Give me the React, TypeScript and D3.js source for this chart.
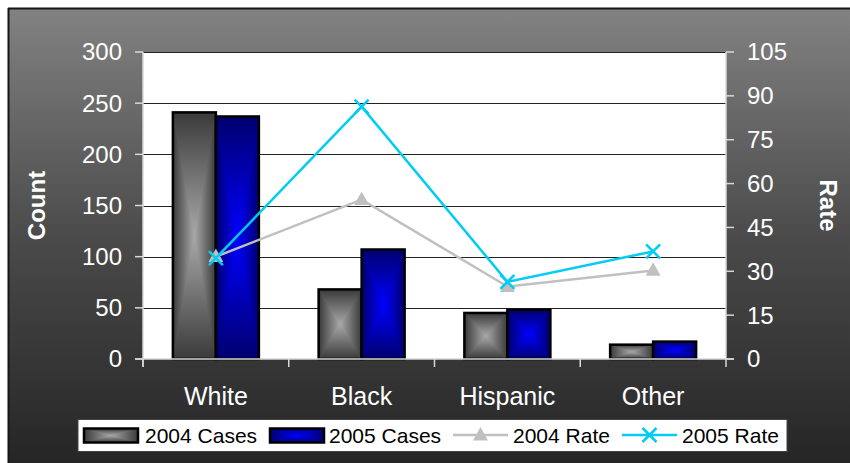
import React from "react";
import * as d3 from "d3";

const categories = ["White", "Black", "Hispanic", "Other"];
const cases2004 = [241, 68, 45, 14];
const cases2005 = [237, 107, 48, 17];
const rate2004 = [35, 54.5, 24.8, 30.3];
const rate2005 = [34.5, 86.3, 26.4, 36.8];
const countTicks = [0, 50, 100, 150, 200, 250, 300];
const rateTicks = [0, 15, 30, 45, 60, 75, 90, 105];
const legendLabels = ["2004 Cases", "2005 Cases", "2004 Rate", "2005 Rate"];

const W = 850;
const H = 463;
const plot = { left: 143, right: 726, top: 52, bottom: 359 };
const FONT = "'Liberation Sans', Arial, sans-serif";
const RATE2004 = "#c0c0c0";
const RATE2005 = "#00ccf5";

function GradBar({ x, y, w, h, id }: { x: number; y: number; w: number; h: number; id: string }) {
  const cx = x + w / 2;
  const cy = y + h / 2;
  const x2 = x + w;
  const y2 = y + h;
  return (
    <g>
      <rect x={x} y={y} width={w} height={h} fill={`url(#${id}-h)`} />
      <path d={`M${x},${y}L${x2},${y}L${cx},${cy}Z`} fill={`url(#${id}-t)`} />
      <path d={`M${x},${y2}L${x2},${y2}L${cx},${cy}Z`} fill={`url(#${id}-b)`} />
      <rect x={x} y={y} width={w} height={h} fill="none" stroke="#000" strokeWidth={2.5} />
    </g>
  );
}

function GradDefs({ id, edge, center }: { id: string; edge: string; center: string }) {
  const mk = (suffix: string, x1: number, y1: number, x2: number, y2: number) => (
    <linearGradient id={`${id}-${suffix}`} x1={x1} y1={y1} x2={x2} y2={y2}>
      <stop offset="0" stopColor={edge} />
      <stop offset="1" stopColor={center} />
    </linearGradient>
  );
  return (
    <>
      {mk("t", 0, 0, 0, 1)}
      {mk("b", 0, 1, 0, 0)}
      <linearGradient id={`${id}-h`} x1={0} y1={0} x2={1} y2={0}>
        <stop offset="0" stopColor={edge} />
        <stop offset="0.5" stopColor={center} />
        <stop offset="1" stopColor={edge} />
      </linearGradient>
    </>
  );
}

function Triangle({ x, y, s, fill }: { x: number; y: number; s: number; fill: string }) {
  const h = s * 0.9;
  return <path d={`M${x},${y - h * 0.6}L${x + s / 2},${y + h * 0.4}L${x - s / 2},${y + h * 0.4}Z`} fill={fill} />;
}

function XMark({ x, y, s, stroke }: { x: number; y: number; s: number; stroke: string }) {
  const r = s / 2;
  return (
    <path d={`M${x - r},${y - r}L${x + r},${y + r}M${x - r},${y + r}L${x + r},${y - r}`} stroke={stroke} strokeWidth={2.5} fill="none" />
  );
}

export default function App() {
  const x0 = d3.scaleBand<string>().domain(categories).range([plot.left, plot.right]).paddingInner(0).paddingOuter(0);
  const yCount = d3.scaleLinear().domain([0, 300]).range([plot.bottom, plot.top]);
  const yRate = d3.scaleLinear().domain([0, 105]).range([plot.bottom, plot.top]);
  const barW = 43;
  const center = (c: string) => (x0(c) as number) + x0.bandwidth() / 2;

  const line = d3
    .line<number>()
    .x((_, i) => center(categories[i]))
    .y((d) => yRate(d));

  const boundaries = categories.map((c) => x0(c) as number).concat([plot.right]);

  const legendSwatchX = [84, 270, 453, 622];
  const legendTextX = [145, 329, 513, 682];
  const legY = 435;

  return (
    <svg
      width={W}
      height={H}
      style={{ position: "absolute", left: 0, top: 0, display: "block" }}
      fontFamily={FONT}
    >
      <defs>
        <linearGradient id="bg" x1="0" y1="0" x2="0" y2="1">
          <stop offset="0" stopColor="#828282" />
          <stop offset="0.5" stopColor="#4a4a4a" />
          <stop offset="1" stopColor="#242424" />
        </linearGradient>
        <GradDefs id="g4" edge="#3a3a3a" center="#a8a8a8" />
        <GradDefs id="g5" edge="#00006e" center="#0000ff" />
      </defs>
      <rect x={0} y={0} width={W} height={H} fill="#fff" />
      <rect x={8} y={8} width={W} height={H} fill="url(#bg)" />
      <line x1={8} y1={8.5} x2={W} y2={8.5} stroke="#161616" strokeWidth={2} />
      <line x1={8.5} y1={8} x2={8.5} y2={H} stroke="#161616" strokeWidth={2} />

      {/* plot area */}
      <rect x={plot.left} y={plot.top} width={plot.right - plot.left} height={plot.bottom - plot.top} fill="#fff" />
      {countTicks.slice(1).map((t) => (
        <line key={t} x1={plot.left} x2={plot.right} y1={Math.round(yCount(t)) + 0.5} y2={Math.round(yCount(t)) + 0.5} stroke="#222" strokeWidth={1} />
      ))}

      {/* bars */}
      {categories.map((c, i) => {
        const cx = center(c);
        const y4 = yCount(cases2004[i]);
        const y5 = yCount(cases2005[i]);
        return (
          <g key={c}>
            <GradBar x={cx - barW} y={y4} w={barW} h={yCount(0) - y4} id="g4" />
            <GradBar x={cx} y={y5} w={barW} h={yCount(0) - y5} id="g5" />
          </g>
        );
      })}

      {/* rate lines */}
      <path d={line(rate2004) as string} fill="none" stroke={RATE2004} strokeWidth={2.5} />
      <path d={line(rate2005) as string} fill="none" stroke={RATE2005} strokeWidth={2.5} />
      {rate2004.map((v, i) => (
        <Triangle key={i} x={center(categories[i])} y={yRate(v)} s={15} fill={RATE2004} />
      ))}
      {rate2005.map((v, i) => (
        <XMark key={i} x={center(categories[i])} y={yRate(v)} s={14} stroke={RATE2005} />
      ))}

      {/* axes */}
      <line x1={plot.left} x2={plot.left} y1={plot.top} y2={plot.bottom + 8} stroke="#d8d8d8" strokeWidth={1.5} />
      <line x1={plot.right} x2={plot.right} y1={plot.top} y2={plot.bottom} stroke="#d8d8d8" strokeWidth={1.5} />
      <line x1={plot.left - 8} x2={plot.right + 8} y1={plot.bottom} y2={plot.bottom} stroke="#d8d8d8" strokeWidth={1.5} />
      {countTicks.map((t) => (
        <g key={t}>
          <line x1={plot.left - 8} x2={plot.left} y1={yCount(t)} y2={yCount(t)} stroke="#d8d8d8" strokeWidth={1.5} />
          <text x={122} y={yCount(t)} dy="0.35em" textAnchor="end" fill="#fff" fontSize={24}>
            {t}
          </text>
        </g>
      ))}
      {rateTicks.map((t) => (
        <g key={t}>
          <line x1={plot.right} x2={plot.right + 8} y1={yRate(t)} y2={yRate(t)} stroke="#d8d8d8" strokeWidth={1.5} />
          <text x={747} y={yRate(t)} dy="0.35em" textAnchor="start" fill="#fff" fontSize={24}>
            {t}
          </text>
        </g>
      ))}
      {boundaries.map((b, i) => (
        <line key={i} x1={b} x2={b} y1={plot.bottom} y2={plot.bottom + 8} stroke="#d8d8d8" strokeWidth={1.5} />
      ))}
      {categories.map((c) => (
        <text key={c} x={center(c)} y={405} textAnchor="middle" fill="#fff" fontSize={25}>
          {c}
        </text>
      ))}

      <text transform={`translate(45,${(plot.top + plot.bottom) / 2}) rotate(-90)`} textAnchor="middle" fill="#fff" fontSize={24} fontWeight="bold">
        Count
      </text>
      <text transform={`translate(820,${(plot.top + plot.bottom) / 2}) rotate(90)`} textAnchor="middle" fill="#fff" fontSize={24} fontWeight="bold">
        Rate
      </text>

      {/* legend */}
      <rect x={78} y={419.5} width={709} height={32} fill="#fff" stroke="#444" strokeWidth={1} />
      <GradBar x={legendSwatchX[0]} y={428.5} w={54} h={14} id="g4" />
      <GradBar x={legendSwatchX[1]} y={428.5} w={54} h={14} id="g5" />
      <line x1={legendSwatchX[2]} x2={legendSwatchX[2] + 55} y1={legY} y2={legY} stroke={RATE2004} strokeWidth={2.5} />
      <Triangle x={legendSwatchX[2] + 27.5} y={legY} s={15} fill={RATE2004} />
      <line x1={legendSwatchX[3]} x2={legendSwatchX[3] + 55} y1={legY} y2={legY} stroke={RATE2005} strokeWidth={2.5} />
      <XMark x={legendSwatchX[3] + 27.5} y={legY} s={14} stroke={RATE2005} />
      {legendLabels.map((l, i) => (
        <text key={l} x={legendTextX[i]} y={legY} dy="0.36em" fill="#000" fontSize={21}>
          {l}
        </text>
      ))}
    </svg>
  );
}
